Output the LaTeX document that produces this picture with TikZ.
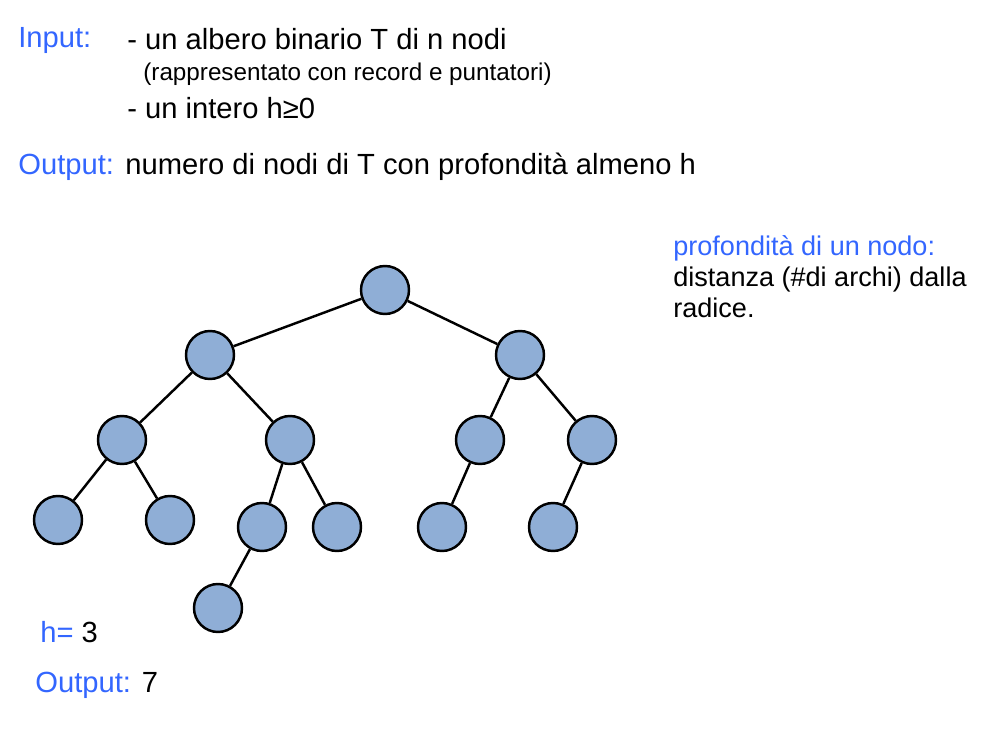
\documentclass[tikz,border=0pt]{standalone}
\usepackage{fontspec}
\setmainfont{Liberation Sans}
\usepackage{tikz}
\definecolor{titleblue}{RGB}{51,102,255}
\definecolor{nodeblue}{RGB}{143,174,214}

\begin{document}
\begin{tikzpicture}[x=0.02cm,y=-0.02cm,
		vertex/.style={circle,draw=black,line width=1.4pt,fill=nodeblue,minimum size=0.96cm,inner sep=0pt},
		edge/.style={line width=1.4pt},
		txt/.style={anchor=base west,inner sep=0pt,font=\fontsize{16.6}{19}\selectfont},
		small/.style={anchor=base west,inner sep=0pt,font=\fontsize{13.8}{16}\selectfont},
		side/.style={anchor=base west,inner sep=0pt,font=\fontsize{15.4}{18}\selectfont}]
		
		\useasboundingbox (0,0) rectangle (997,739);
		
		% testo in alto
		\node[txt,text=titleblue] (input) at (18,48) {Input:};
		\node[txt] (albero) at (127,50) {- un albero binario T di n nodi};
		\node[small] (record) at (143,81) {(rappresentato con record e puntatori)};
		\node[txt] (intero) at (127,119) {- un intero h≥0};
		\node[txt,text=titleblue] (output) at (18,175) {Output:};
		\node[txt] (numero) at (125,175) {numero di nodi di T con profondità almeno h};
		
		\node[side,text=titleblue] (prof) at (673,256) {profondità di un nodo:};
		\node[side] (dist) at (673,287) {distanza (\#di archi) dalla};
		\node[side] (radice) at (673,318) {radice.};
		
		\node[txt] (h) at (40,642) {\textcolor{titleblue}{h=} 3};
		\node[txt] (out) at (35,692) {\textcolor{titleblue}{Output:} 7};
		
		% albero
		\node[vertex] (r) at (385,290) {};
		\node[vertex] (a) at (210,355) {};
		\node[vertex] (b) at (520,355) {};
		\node[vertex] (aa) at (122,440) {};
		\node[vertex] (ab) at (290,440) {};
		\node[vertex] (ba) at (480,440) {};
		\node[vertex] (bb) at (592,440) {};
		\node[vertex] (aaa) at (58,520) {};
		\node[vertex] (aab) at (170,520) {};
		\node[vertex] (aba) at (262,527) {};
		\node[vertex] (abb) at (337,527) {};
		\node[vertex] (baa) at (442,527) {};
		\node[vertex] (bba) at (553,527) {};
		\node[vertex] (abaa) at (218,608) {};
		
		\draw[edge] (r) -- (a) ;
		\draw[edge] (r) -- (b) ;
		\draw[edge] (a) -- (aa) ;
		\draw[edge] (a) -- (ab) ;
		\draw[edge] (b) -- (ba) ;
		\draw[edge] (b) -- (bb) ;
		\draw[edge] (aa) -- (aaa) ;
		\draw[edge] (aa) -- (aab) ;
		\draw[edge] (ab) -- (aba) ;
		\draw[edge] (ab) -- (abb) ;
		\draw[edge] (ba) -- (baa) ;
		\draw[edge] (bb) -- (bba) ;
		\draw[edge] (aba) -- (abaa) ;
	\end{tikzpicture}
\end{document}
